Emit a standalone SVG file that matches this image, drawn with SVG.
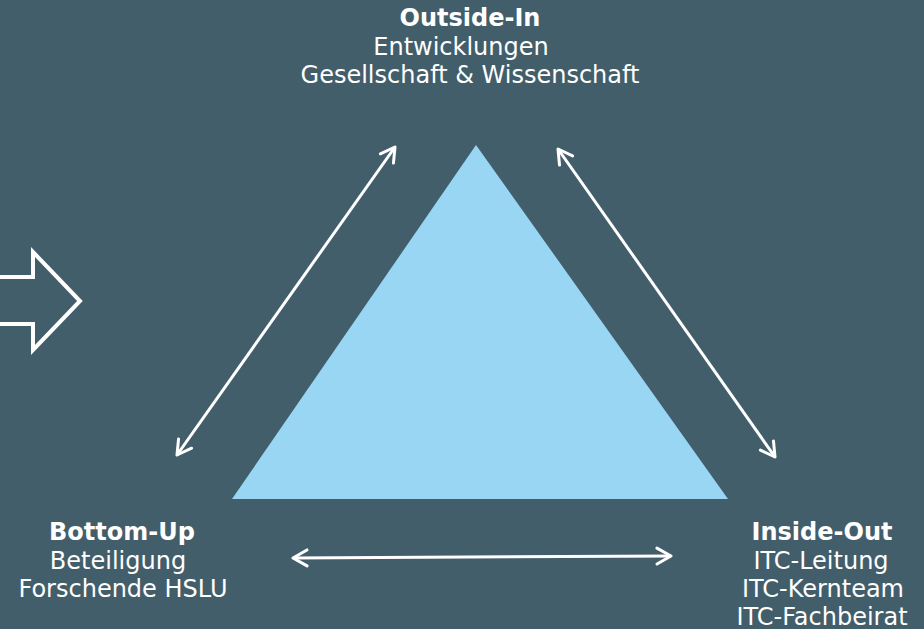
<svg xmlns="http://www.w3.org/2000/svg" width="924" height="629" viewBox="0 0 924 629">
<defs>
<marker id="ah" viewBox="0 0 20 20" refX="17" refY="10" markerWidth="20" markerHeight="20" markerUnits="userSpaceOnUse" orient="auto-start-reverse">
<path d="M3,2 L17,10 L3,18" fill="none" stroke="#fff" stroke-width="3" stroke-linecap="round" stroke-linejoin="round"/>
</marker>
<style>
text{font-family:"DejaVu Sans",Verdana,sans-serif;font-size:24px;fill:#fff;text-anchor:middle}
.b{font-weight:bold}
.c{stroke:#fff;stroke-width:3;fill:none;marker-start:url(#ah);marker-end:url(#ah)}
</style>
</defs>
<rect width="924" height="629" fill="#425e6b"/>
<g id="triangle"><polygon points="476,145 232,499 728,499" fill="#98d6f4"/></g>
<g id="block-arrow"><path d="M-5,277 L33,277 L33,252 L80,301 L33,350 L33,324 L-5,324" fill="none" stroke="#fff" stroke-width="4"/></g>
<g id="connectors">
<line class="c" x1="177" y1="455" x2="395" y2="147"/>
<line class="c" x1="558" y1="149" x2="775" y2="457"/>
<line class="c" x1="293" y1="558" x2="671" y2="556"/>
</g>
<g id="outside-in">
<text x="470" y="26" class="b">Outside-In</text>
<text x="461" y="55">Entwicklungen</text>
<text x="470" y="83">Gesellschaft &amp; Wissenschaft</text>
</g>
<g id="bottom-up">
<text x="122" y="540" class="b">Bottom-Up</text>
<text x="118" y="569">Beteiligung</text>
<text x="123" y="597">Forschende HSLU</text>
</g>
<g id="inside-out">
<text x="822" y="540" class="b">Inside-Out</text>
<text x="821" y="569">ITC-Leitung</text>
<text x="823" y="597">ITC-Kernteam</text>
<text x="822" y="625">ITC-Fachbeirat</text>
</g>
</svg>
